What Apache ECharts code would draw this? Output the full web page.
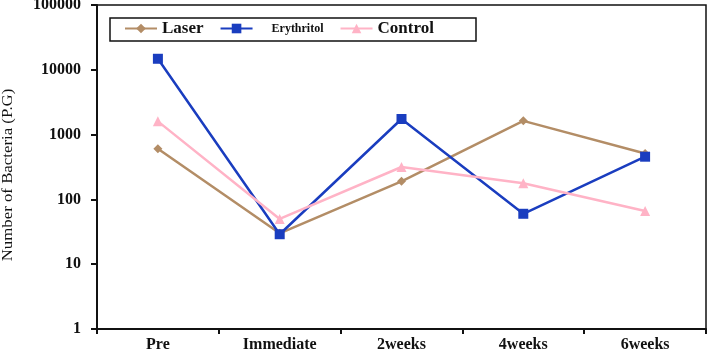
<!DOCTYPE html>
<html>
<head>
<meta charset="utf-8">
<script src="https://cdn.jsdelivr.net/npm/echarts@6/dist/echarts.min.js"></script>
<style>
    html, body { margin: 0; padding: 0; background: #fff; }
    #chart { width: 708px; height: 351px; }
</style>
</head>
<body>
<div id="chart"></div>
<script>
//分类与数据
var categories = ['Pre', 'Immediate', '2weeks', '4weeks', '6weeks']
var laserData = [605, 30, 190, 1630, 510]
var erythritolData = [14800, 29, 1740, 60, 456]
var controlData = [1600, 50, 316, 177, 66]

var serif = '"Liberation Serif", "DejaVu Serif", serif'

function makeSeries(name, data, color, symbol, size) {
    return {
        name: name,
        type: 'line',
        data: data,
        symbol: symbol,
        symbolSize: size,
        lineStyle: { color: color, width: 2.5 },
        itemStyle: { color: color },
        emphasis: { disabled: true }
    }
}

var myChart = echarts.init(document.getElementById('chart'))

var option = {
    animation: false,
    grid: {
        left: 97,
        right: 2,
        top: 5,
        bottom: 22,
        outerBoundsMode: 'none',
        show: true,
        borderColor: '#111',
        borderWidth: 1.5
    },
    graphic: [
        {
            type: 'rect',
            shape: { x: 110, y: 18, width: 366, height: 23 },
            style: { fill: '#fff', stroke: '#111', lineWidth: 1.5 },
            z: 90
        },
        {
            type: 'text',
            x: 8,
            y: 175,
            rotation: Math.PI / 2,
            scaleX: 1.4,
            scaleY: 1.3,
            style: {
                text: 'Number of Bacteria (P.G)',
                font: '12px ' + serif,
                fill: '#111',
                align: 'center',
                verticalAlign: 'middle'
            }
        }
    ],
    legend: {
        left: 124,
        top: 20,
        z: 100,
        padding: 0,
        itemGap: 16,
        itemWidth: 32,
        itemHeight: 12,
        textStyle: {
            fontFamily: serif,
            fontWeight: 'bold',
            color: '#111'
        },
        data: [
            { name: 'Laser', textStyle: { fontSize: 17 } },
            { name: 'Erythritol', textStyle: { fontSize: 12, padding: [0, 14, 0, 14] } },
            { name: 'Control', textStyle: { fontSize: 17 } }
        ]
    },
    xAxis: {
        type: 'category',
        data: categories,
        boundaryGap: true,
        axisLine: { lineStyle: { color: '#111', width: 2 } },
        axisTick: { show: true, length: 5, lineStyle: { color: '#111', width: 2 } },
        axisLabel: {
            margin: 8,
            fontFamily: serif,
            fontWeight: 'bold',
            fontSize: 16,
            color: '#111'
        },
        splitLine: { show: false }
    },
    yAxis: {
        type: 'log',
        logBase: 10,
        min: 1,
        max: 100000,
        axisLine: { show: true, lineStyle: { color: '#111', width: 2 } },
        axisTick: { show: true, length: 6, lineStyle: { color: '#111', width: 2 } },
        axisLabel: {
            margin: 16,
            fontFamily: serif,
            fontWeight: 'bold',
            fontSize: 16,
            color: '#111',
            formatter: function (v) { return String(v) }
        },
        minorTick: { show: false },
        splitLine: { show: false }
    },
    series: [
        makeSeries('Laser', laserData, '#B38D66', 'diamond', 9),
        makeSeries('Erythritol', erythritolData, '#1A3DBF', 'rect', 10),
        makeSeries('Control', controlData, '#FFB3C6', 'triangle', 10)
    ]
}

myChart.setOption(option)
</script>
</body>
</html>
